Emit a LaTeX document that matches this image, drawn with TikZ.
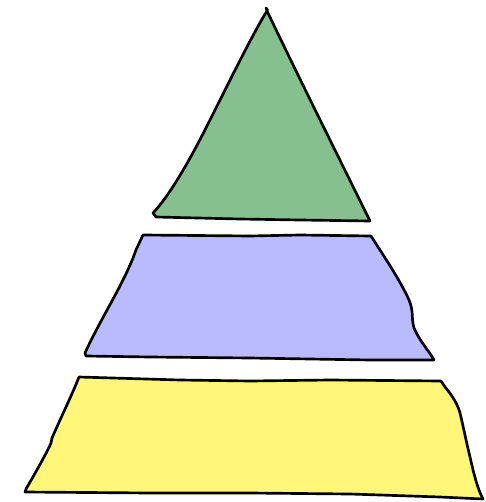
\documentclass[tikz,border=0pt]{standalone}
\definecolor{topgreen}{RGB}{134,192,142}
\definecolor{midblue}{RGB}{186,187,255}
\definecolor{baseyellow}{RGB}{255,246,122}
\tikzset{layer/.style={draw=black, line width=2pt, line join=round, line cap=round}}
\begin{document}
\begin{tikzpicture}[x=0.75pt,y=-0.75pt]
\useasboundingbox (0,0) rectangle (485,502);
% top triangle
\draw[layer, fill=topgreen]
  (267.5,10) -- (266,8) -- (268,13) .. controls (300,80) and (340,160) .. (370,221)
  -- (300,220) -- (240,219) -- (156,217) -- (153,213)
  .. controls (170,195) and (190,160) .. (210,120)
  .. controls (235,70) and (255,30) .. (267.5,10) -- cycle;
% middle trapezoid
\draw[layer, fill=midblue]
  (143,235) -- (250,236) -- (300,235) -- (371,236)
  .. controls (385,258) and (400,280) .. (409,300)
  .. controls (414,312) and (411,318) .. (414,328)
  .. controls (420,342) and (430,352) .. (434,360)
  -- (370,360) -- (250,358) -- (150,357) -- (86,356) -- (85,353)
  .. controls (100,320) and (120,290) .. (133,258)
  -- (136,250) -- (143,235) -- cycle;
% bottom trapezoid
\draw[layer, fill=baseyellow]
  (79,377) -- (180,380) -- (250,381) -- (330,380) -- (441,381)
  -- (445,387) .. controls (452,395) and (458,405) .. (460,413)
  .. controls (464,430) and (467,445) .. (470,457)
  .. controls (474,475) and (478,490) .. (483,499)
  -- (440,497) -- (350,494) -- (250,493) -- (150,493) -- (25,492)
  -- (26,489) .. controls (40,465) and (48,450) .. (51,443)
  -- (52,438) .. controls (62,415) and (72,395) .. (79,377) -- cycle;
\end{tikzpicture}
\end{document}
